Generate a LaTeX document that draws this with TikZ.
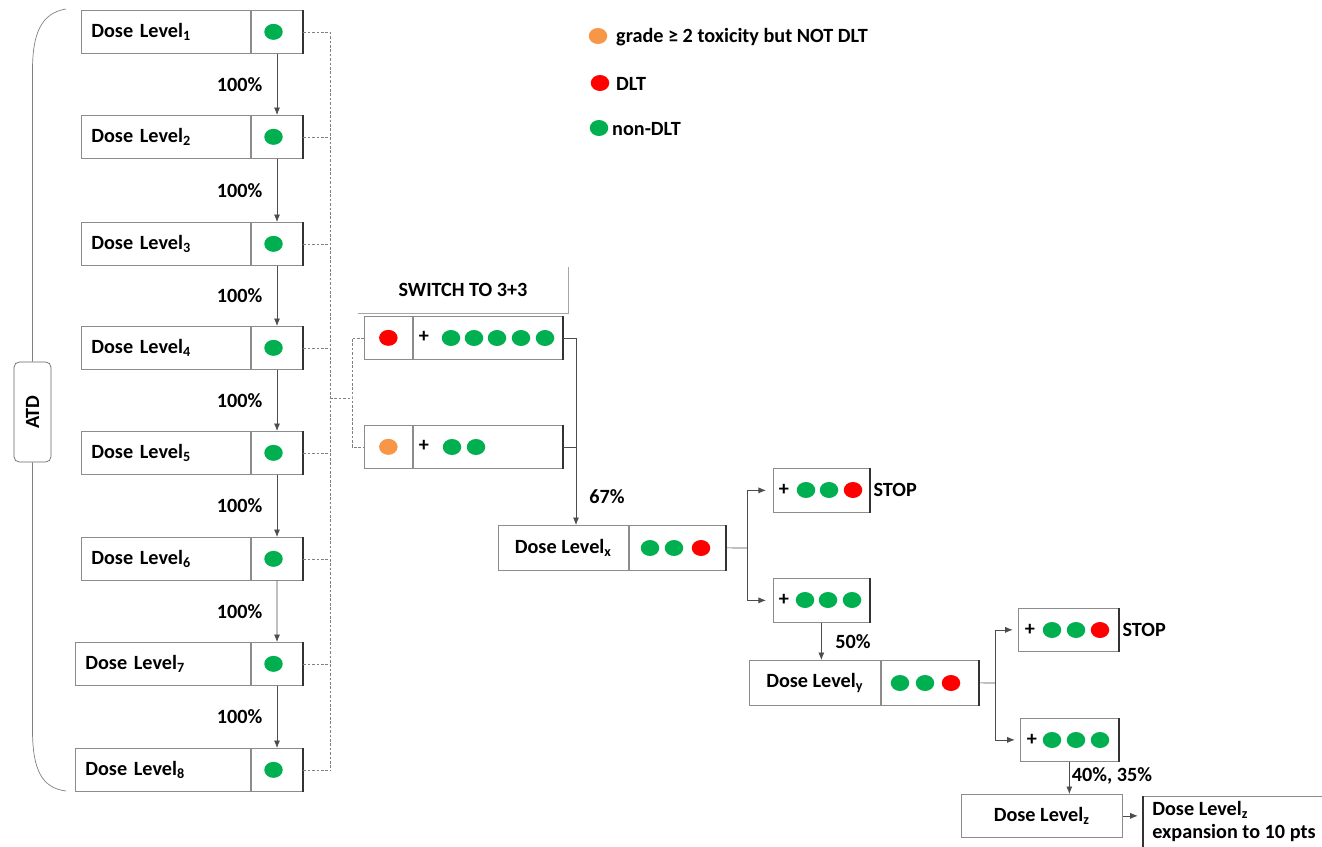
\documentclass[tikz,border=0pt]{standalone}
\usepackage{fontspec}
\setmainfont{Carlito}
\usetikzlibrary{positioning, shapes.geometric, arrows.meta}

\definecolor{dltgreen}{RGB}{0,176,80}
\definecolor{dltred}{RGB}{255,0,0}
\definecolor{dltorange}{RGB}{247,150,70}

\tikzset{
  cell/.style={draw=black!45, fill=white, minimum height=0.86cm, inner sep=0pt},
  labelcell/.style={cell, inner xsep=0.2cm, align=left},
  dotcell/.style={cell, minimum width=1.04cm},
  tox/.style={ellipse, fill=#1, minimum width=0.37cm, minimum height=0.32cm, inner sep=0pt},
  rim/.style={line width=1.1pt, black!80},
  flow/.style={-{Latex[length=1.5mm,width=1.2mm]}, black!70},
  link/.style={black!70},
  guide/.style={dash pattern=on 1.5pt off 1pt, black!50},
  brace/.style={black!50},
  pct/.style={inner sep=1pt, text=black}
}

\begin{document}
\begin{tikzpicture}[x=0.02cm, y=-0.02cm, font=\bfseries\fontsize{11.5}{13}\selectfont]
\clip (0,0) rectangle (1322,846);

% legend
\node[tox=dltorange] (lo) at (598,36) {};
\node[anchor=west] (lotext) at (610,37) {grade ≥ 2 toxicity but NOT DLT};
\node[tox=dltred] (lr) at (600,83) {};
\node[anchor=west] (lrtext) at (610,84) {DLT};
\node[tox=dltgreen] (lg) at (599,128) {};
\node[anchor=west] (lgtext) at (606,129) {non-DLT};

% accelerated titration: one patient per level
\foreach \i/\top/\left/\tw in {1/10/81/2.98, 2/115/81/2.98, 3/222/81/2.98, 4/326/81/2.98,
                               5/431/81/2.98, 6/537/81/2.98, 7/642/75/3.1, 8/748/75/3.1}{
  \node[labelcell, text width=\tw cm, anchor=north west] (dl\i) at (\left,\top) {Dose Level\textsubscript{\i}};
  \node[dotcell, right=0pt of dl\i] (dc\i) {};
  \node[tox=dltgreen] (g\i) at ([xshift=-2pt]dc\i.center) {};
  \draw[rim] (dc\i.north east) -- (dc\i.south east);
}
\foreach \i [evaluate=\i as \j using int(\i+1)] in {1,...,7}
  \draw[flow] (dc\i.south) -- (dc\j.north) node[pct, midway, left=0.25cm] {100\%};

% ATD bracket
\node[draw=black!60, fill=white, rounded corners=3pt, minimum width=0.74cm, minimum height=2cm, inner sep=0pt] (atd) at (32.5,412) {\rotatebox{90}{ATD}};
\coordinate (atdtop) at (66,9);
\coordinate (atdbot) at (66,791);
\draw[brace] (atdtop) .. controls (42,13) and (32.5,32) .. (32.5,70) -- (atd.north);
\draw[brace] (atd.south) -- (32.5,730) .. controls (32.5,770) and (42,788) .. (atdbot);

% switch to 3+3
\node[minimum width=4.2cm, minimum height=0.9cm, inner sep=0pt] (switch) at (463,290) {SWITCH TO 3+3};
\draw[black!35] (switch.south west) -- (switch.south east) -- (switch.north east);

\node[cell, minimum width=0.96cm, anchor=north west] (ar) at (364,316) {};
\node[cell, minimum width=3cm, right=0pt of ar] (ag) {};
\node[tox=dltred] (ar1) at (ar) {};
\node (aplus) at (424,337) {+};
\foreach \k/\x in {1/451, 2/474, 3/497, 4/521, 5/545}
  \node[tox=dltgreen] (ag\k) at (\x,338) {};

\node[cell, minimum width=0.96cm, anchor=north west] (bo) at (364,425) {};
\node[cell, minimum width=3cm, right=0pt of bo] (bg) {};
\node[tox=dltorange] (bo1) at (bo) {};
\node (bplus) at (424,446) {+};
\foreach \k/\x in {1/452, 2/476}
  \node[tox=dltgreen] (bg\k) at (\x,447) {};

% dose level x
\node[cell, minimum width=2.6cm, minimum height=0.9cm, anchor=north west] (dxl) at (498,525) {Dose Level\textsubscript{x}};
\node[cell, minimum width=1.94cm, minimum height=0.9cm, right=0pt of dxl] (dxd) {};
\foreach \k/\x/\c in {1/650/dltgreen, 2/674/dltgreen, 3/701/dltred}
  \node[tox=\c] (dx\k) at (\x,548) {};

\node[cell, minimum width=1.92cm, minimum height=0.88cm, anchor=north west] (xs) at (773,468) {};
\node[anchor=west, inner sep=2pt] (xstop) at (xs.east) {STOP};
\node (xsplus) at (784,490) {+};
\foreach \k/\x/\c in {1/806/dltgreen, 2/829/dltgreen, 3/853/dltred}
  \node[tox=\c] (xs\k) at (\x,490) {};
\node[cell, minimum width=1.92cm, minimum height=0.88cm, anchor=north west] (xc) at (773,578) {};
\node (xcplus) at (784,600) {+};
\foreach \k/\x in {1/805, 2/828, 3/852}
  \node[tox=dltgreen] (xc\k) at (\x,600) {};

% dose level y
\node[cell, minimum width=2.62cm, minimum height=0.9cm, anchor=north west] (dyl) at (749,660) {Dose Level\textsubscript{y}};
\node[cell, minimum width=1.96cm, minimum height=0.9cm, right=0pt of dyl] (dyd) {};
\foreach \k/\x/\c in {1/900/dltgreen, 2/925/dltgreen, 3/951/dltred}
  \node[tox=\c] (dy\k) at (\x,683) {};

\node[cell, minimum width=2cm, anchor=north west] (ys) at (1018,608) {};
\node[anchor=west, inner sep=2pt] (ystop) at (ys.east) {STOP};
\node (ysplus) at (1030,630) {+};
\foreach \k/\x/\c in {1/1052/dltgreen, 2/1076/dltgreen, 3/1100/dltred}
  \node[tox=\c] (ys\k) at (\x,630) {};
\node[cell, minimum width=1.96cm, anchor=north west] (yc) at (1020,718) {};
\node (ycplus) at (1032,740) {+};
\foreach \k/\x in {1/1052, 2/1076, 3/1100}
  \node[tox=dltgreen] (yc\k) at (\x,740) {};

% dose level z
\node[cell, minimum width=3.22cm, anchor=north west] (dz) at (961,794) {Dose Level\textsubscript{z}};
\node[cell, anchor=north west, inner xsep=0.18cm, inner ysep=3pt] (dze) at (1143,796)
  {\parbox[t][1.3cm][t]{3.8cm}{Dose Level\textsubscript{z}\\expansion to 10 pts}};

\foreach \n in {ag, bg, dxd, xs, xc, dyd, ys, yc}
  \draw[rim] (\n.north east) -- (\n.south east);
\draw[rim] (dze.north west) -- (dze.south west);

% dashed links from the ATD levels
\coordinate (bus) at (330,0);
\coordinate (fork) at (352,398);
\foreach \i in {1,...,8}
  \draw[guide] (dc\i.east) -- (dc\i.east -| bus);
\draw[guide] (dc1.east -| bus) -- (dc8.east -| bus);
\draw[guide] (bus |- fork) -- (fork);
\draw[guide] (ar.west) -| (fork) |- (bo.west);

% 3+3 flow
\coordinate (join) at (576,0);
\draw[link] (bg.east) -- (bg.east -| join);
\draw[flow] (ag.east) -| (join |- dxl.north);
\node[pct] (p67) at (607,497) {67\%};

\coordinate (xfork) at (747,548);
\draw[link] (dxd.east) -- (xfork);
\draw[flow, shorten >=4pt] (xfork) |- (xs.west);
\draw[flow, shorten >=4pt] (xfork) |- (xc.west);
\draw[flow] (xc.south) -- (xc.south |- dyl.north);
\node[pct] (p50) at (853,642) {50\%};

\coordinate (yfork) at (995,683);
\draw[link] (dyd.east) -- (yfork);
\draw[flow, shorten >=3pt] (yfork) |- (ys.west);
\draw[flow, shorten >=3pt] (yfork) |- (yc.west);
\draw[flow] (yc.south) -- (yc.south |- dz.north);
\node[pct] (p40) at (1112,776) {40\%, 35\%};

\draw[flow, shorten >=3pt] (dz.east) -- (dz.east -| dze.west);
\end{tikzpicture}
\end{document}
